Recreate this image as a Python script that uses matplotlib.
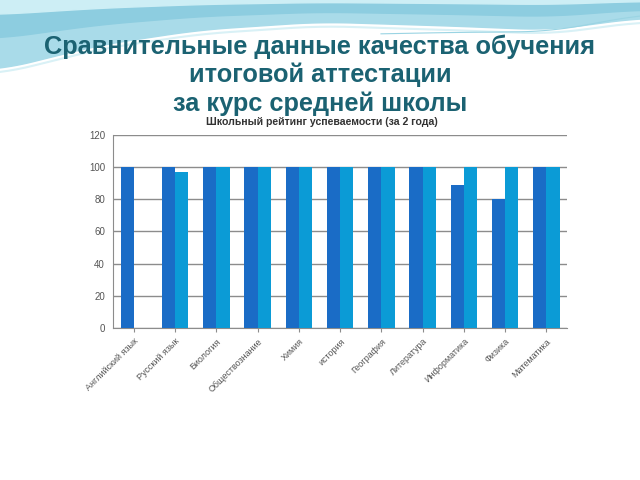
import matplotlib.pyplot as plt
import numpy as np

plt.rcParams['font.family'] = ['Liberation Sans', 'DejaVu Sans']

# data
subjects = ["Английский язык", "Русский язык", "Биология", "Обществознание", "Химия",
            "история", "География", "Литература", "Информатика", "Физика", "Математика"]
year1 = [100, 100, 100, 100, 100, 100, 100, 100, 89, 80, 100]
year2 = [0, 97, 100, 100, 100, 100, 100, 100, 100, 100, 100]
yticks = [0, 20, 40, 60, 80, 100, 120]

fig = plt.figure(figsize=(6.4, 4.8), dpi=100)
fig.patch.set_facecolor("white")

# decorative slide background (wave at the top), pixel coords
bg = fig.add_axes([0, 0, 1, 1], zorder=0)
bg.set_xlim(0, 640)
bg.set_ylim(480, 0)
bg.axis("off")
wx = [0, 100, 200, 320, 450, 550, 640]
wy = [70, 45, 30, 22, 26, 30, 18]
xs = np.linspace(0, 640, 300)
edge = np.interp(xs, wx, wy)
edge = np.convolve(np.pad(edge, 15, mode="edge"), np.ones(31) / 31, mode="valid")
bg.fill_between(xs, 0, edge, color="#a9dbe9")
bg.fill_between(xs, 0, edge * 0.55, color="#8dcde0")
bg.fill_between(xs, 0, np.maximum(edge * 0.25 - 3, 0), color="#cdeef5")
bg.plot(xs, edge + 4, color="#d9f1f6", lw=1.5)
bg.plot(xs[xs > 380], edge[xs > 380] + 10 - (xs[xs > 380] - 380) * 0.05, color="#9ad4e3", lw=0.8)

for txt, yy in [("Сравнительные данные качества обучения", 47),
                ("итоговой аттестации", 75),
                ("за курс средней школы", 104)]:
    fig.text(0.5, 1 - yy / 480, txt, ha="center", va="center",
             fontsize=18.3, fontweight="bold", color="#1b6272")

ax = fig.add_axes([0.177, 0.317, 0.709, 0.402], zorder=1)
ax.set_facecolor("white")
x = np.arange(len(subjects))
w = 0.32
ax.bar(x - w / 2, year1, w, color="#1a6cc6", zorder=3)
ax.bar(x + w / 2, year2, w, color="#0b9bd6", zorder=3)

ax.set_xlim(-0.5, len(subjects) - 0.5)
ax.set_ylim(0, 120)
ax.set_yticks(yticks)
ax.yaxis.grid(True, color="#8c8c8c", lw=1, zorder=0)
ax.tick_params(axis="y", length=0, labelsize=7, labelcolor="#555555", pad=6)
ax.set_xticks(x)
ax.set_xticklabels(subjects, rotation=45, ha="right", rotation_mode="anchor",
                   fontsize=6.5, color="#555555")
ax.tick_params(axis="x", length=3, color="#8c8c8c")
for s in ["top", "right"]:
    ax.spines[s].set_visible(False)
ax.spines["left"].set_color("#8c8c8c")
ax.spines["bottom"].set_color("#8c8c8c")
fig.text(322 / 640, 1 - 122 / 480, "Школьный рейтинг успеваемости (за 2 года)",
         ha="center", va="center", fontsize=7.6, fontweight="bold", color="#333333")

fig.savefig("out.png", dpi=100)
